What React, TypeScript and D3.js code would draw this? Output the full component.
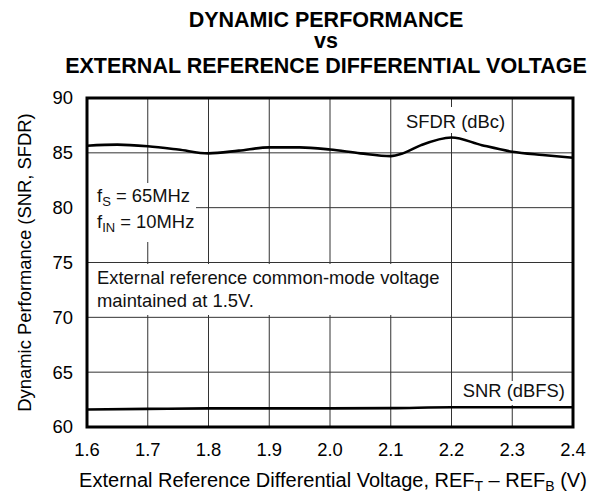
import React from "react";
import * as d3 from "d3";

const xTicks = [1.6, 1.7, 1.8, 1.9, 2.0, 2.1, 2.2, 2.3, 2.4];
const yTicks = [60, 65, 70, 75, 80, 85, 90];
const sfdrX = [1.6, 1.65, 1.7, 1.75, 1.8, 1.85, 1.9, 1.95, 2.0, 2.05, 2.1, 2.12, 2.15, 2.2, 2.25, 2.3, 2.35, 2.4];
const sfdrY = [85.65, 85.75, 85.6, 85.3, 84.95, 85.2, 85.5, 85.5, 85.3, 84.95, 84.7, 84.95, 85.7, 86.4, 85.7, 85.1, 84.8, 84.55];
const snrX = [1.6, 1.7, 1.8, 1.9, 2.0, 2.1, 2.2, 2.3, 2.4];
const snrY = [61.6, 61.65, 61.7, 61.7, 61.7, 61.72, 61.8, 61.8, 61.8];

const FONT = "'Liberation Sans', Arial, Helvetica, sans-serif";

export default function App() {
  const W = 598, H = 494;
  const L = 87, R = 573, T = 98, B = 427;
  const x = d3.scaleLinear().domain([1.6, 2.4]).range([L, R]);
  const y = d3.scaleLinear().domain([60, 90]).range([B, T]);
  const line = d3.line<[number, number]>().x(d => x(d[0])).y(d => y(d[1])).curve(d3.curveMonotoneX);
  const sfdr = sfdrX.map((v, i) => [v, sfdrY[i]] as [number, number]);
  const snr = snrX.map((v, i) => [v, snrY[i]] as [number, number]);
  const fs = 18.4;
  return (
    <svg width={W} height={H} style={{ position: "absolute", left: 0, top: 0, background: "#fff" }} fontFamily={FONT}>
      <rect x={0} y={0} width={W} height={H} fill="#fff" />
      <g fontWeight="bold" fontSize={21.5} textAnchor="middle" fill="#000">
        <text x={326} y={27}>DYNAMIC PERFORMANCE</text>
        <text x={326} y={48}>vs</text>
        <text x={326} y={73}>EXTERNAL REFERENCE DIFFERENTIAL VOLTAGE</text>
      </g>
      {xTicks.slice(1, -1).map(t => (
        <line key={"gx" + t} x1={x(t)} x2={x(t)} y1={T} y2={B} stroke="#333" strokeWidth={1} />
      ))}
      {yTicks.slice(1, -1).map(t => (
        <line key={"gy" + t} x1={L} x2={R} y1={y(t)} y2={y(t)} stroke="#333" strokeWidth={1} />
      ))}
      <rect x={L} y={183} width={109} height={59} fill="#fff" />
      <rect x={L} y={264} width={360} height={51} fill="#fff" />
      <rect x={401} y={107} width={108} height={26} fill="#fff" />
      <rect x={459} y={381} width={112} height={24} fill="#fff" />
      <path d={line(sfdr) || ""} fill="none" stroke="#000" strokeWidth={2.6} />
      <path d={line(snr) || ""} fill="none" stroke="#000" strokeWidth={2.6} />
      <rect x={L} y={T} width={R - L} height={B - T} fill="none" stroke="#000" strokeWidth={3} />
      <g fontSize={fs} fill="#111">
        <text x={97} y={202}>f<tspan fontSize={13} dy={4}>S</tspan><tspan dy={-4}> = 65MHz</tspan></text>
        <text x={97} y={228}>f<tspan fontSize={13} dy={4}>IN</tspan><tspan dy={-4}> = 10MHz</tspan></text>
        <text x={97} y={284}>External reference common-mode voltage</text>
        <text x={97} y={307}>maintained at 1.5V.</text>
        <text x={406} y={128}>SFDR (dBc)</text>
        <text x={565} y={397} textAnchor="end">SNR (dBFS)</text>
      </g>
      <g fontSize={fs} fill="#000">
        {yTicks.map(t => (
          <text key={"yl" + t} x={73} y={y(t)} dy="0.35em" textAnchor="end">{t}</text>
        ))}
        {xTicks.map(t => (
          <text key={"xl" + t} x={x(t)} y={456} textAnchor="middle">{t.toFixed(1)}</text>
        ))}
        <text x={333} y={487} textAnchor="middle" fontSize={20}>
          External Reference Differential Voltage, REF<tspan fontSize={14} dy={3.5}>T</tspan><tspan dy={-3.5}> – REF</tspan><tspan fontSize={14} dy={3.5}>B</tspan><tspan dy={-3.5}> (V)</tspan>
        </text>
        <text transform={`translate(31,${(T + B) / 2}) rotate(-90)`} textAnchor="middle">Dynamic Performance (SNR, SFDR)</text>
      </g>
    </svg>
  );
}
